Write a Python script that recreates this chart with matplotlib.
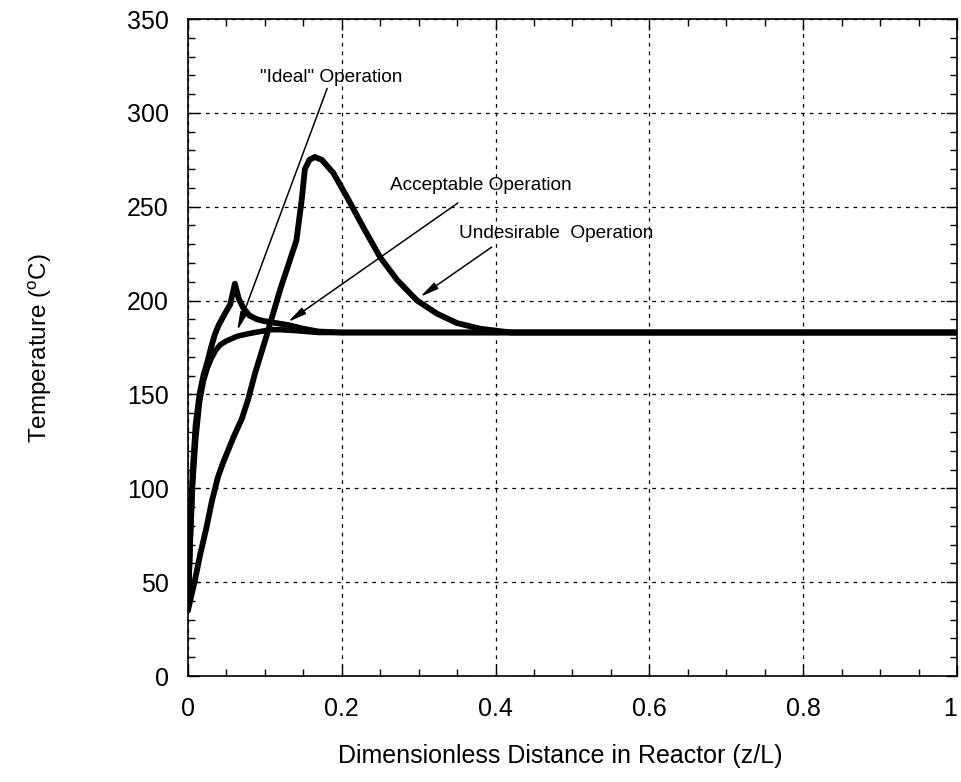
import matplotlib
matplotlib.use("Agg")
import matplotlib.pyplot as plt
from matplotlib.ticker import MultipleLocator

# Datos (z/L, temperatura en C)
ideal_x = [0, 0.003, 0.006, 0.01, 0.015, 0.02, 0.025, 0.03, 0.036, 0.042, 0.05, 0.064, 0.08, 0.094, 0.107, 0.12, 0.14, 0.17, 0.2, 0.3, 0.5, 0.7, 1.0]
ideal_y = [35, 72, 102, 126, 146, 157, 164, 169, 173.5, 176.5, 178.5, 181, 182.5, 183.5, 184.5, 184.5, 184, 183, 183, 183, 183, 183, 183]

acept_x = [0, 0.003, 0.006, 0.01, 0.015, 0.02, 0.025, 0.03, 0.035, 0.04, 0.048, 0.055, 0.061, 0.066, 0.072, 0.08, 0.09, 0.1, 0.115, 0.13, 0.15, 0.17, 0.2, 0.3, 0.5, 1.0]
acept_y = [35, 76, 108, 134, 150, 160, 167, 175, 182, 187, 193, 198, 209, 201, 196, 192, 190, 189, 188, 187, 185, 183.5, 183, 183, 183, 183]

indes_x = [0, 0.009, 0.016, 0.024, 0.031, 0.039, 0.046, 0.052, 0.06, 0.07, 0.078, 0.087, 0.102, 0.12, 0.141, 0.148, 0.152, 0.158, 0.165, 0.174, 0.189, 0.207, 0.228, 0.25, 0.272, 0.298, 0.324, 0.35, 0.38, 0.42, 0.5, 1.0]
indes_y = [35, 51, 65, 79, 93, 106, 114, 120, 128, 137, 147, 161, 181, 206, 232, 254, 270, 275, 276.5, 275, 268, 255, 239, 223, 211, 200, 193, 188, 185, 183, 183, 183]

x_ticks = [0, 0.2, 0.4, 0.6, 0.8, 1.0]
x_labels = ['0', '0.2', '0.4', '0.6', '0.8', '1']

plt.rcParams['font.family'] = ['Liberation Sans', 'DejaVu Sans']

fig = plt.figure(figsize=(9.61, 7.82), dpi=100)
ax = fig.add_axes([0.1956, 0.1355, 0.8002, 0.8402])

# Las tres curvas de operacion
ax.plot(ideal_x, ideal_y, color='black', lw=4.0, solid_capstyle='round', solid_joinstyle='round')
ax.plot(acept_x, acept_y, color='black', lw=4.2, solid_capstyle='round', solid_joinstyle='round')
ax.plot(indes_x, indes_y, color='black', lw=4.2, solid_capstyle='round', solid_joinstyle='round')

ax.set_xlim(0, 1)
ax.set_ylim(0, 350)
ax.set_xticks(x_ticks)
ax.set_xticklabels(x_labels)
ax.xaxis.set_minor_locator(MultipleLocator(0.05))
ax.yaxis.set_major_locator(MultipleLocator(50))
ax.yaxis.set_minor_locator(MultipleLocator(10))
ax.tick_params(which='both', direction='in', top=True, right=True, labelsize=18, width=1)
ax.tick_params(axis='x', pad=15)
ax.tick_params(axis='y', pad=14)
ax.tick_params(which='major', length=8)
ax.tick_params(which='minor', length=5)
ax.get_xticklabels()[-1].set_horizontalalignment('right')  # el "1" queda dentro de la figura
ax.grid(True, which='major', color='black', linestyle=(0, (3, 4)), lw=0.9)
for s in ax.spines.values():
    s.set_linewidth(1.2)

ax.set_xlabel('Dimensionless Distance in Reactor (z/L)', fontsize=18)
ax.xaxis.set_label_coords(0.484, -0.103)
ax.set_ylabel(r'Temperature ($\mathregular{^{o}}$C)', fontsize=17.5, labelpad=52)

# Anotaciones con flechas
flecha = dict(arrowstyle='-|>,head_length=1.1,head_width=0.22', color='black', lw=1.1, shrinkA=0, shrinkB=0)
ax.text(0.186, 319, '"Ideal" Operation', fontsize=13.7, ha='center', va='center')
ax.annotate('', xy=(0.064, 184), xytext=(0.181, 313), arrowprops=flecha)
ax.text(0.381, 261.5, 'Acceptable Operation', fontsize=13.7, ha='center', va='center')
ax.annotate('', xy=(0.130, 188.6), xytext=(0.351, 252), arrowprops=flecha)
ax.text(0.479, 236, 'Undesirable  Operation', fontsize=13.7, ha='center', va='center')
ax.annotate('', xy=(0.302, 202), xytext=(0.395, 228.5), arrowprops=flecha)

plt.savefig('out.png', dpi=100)
